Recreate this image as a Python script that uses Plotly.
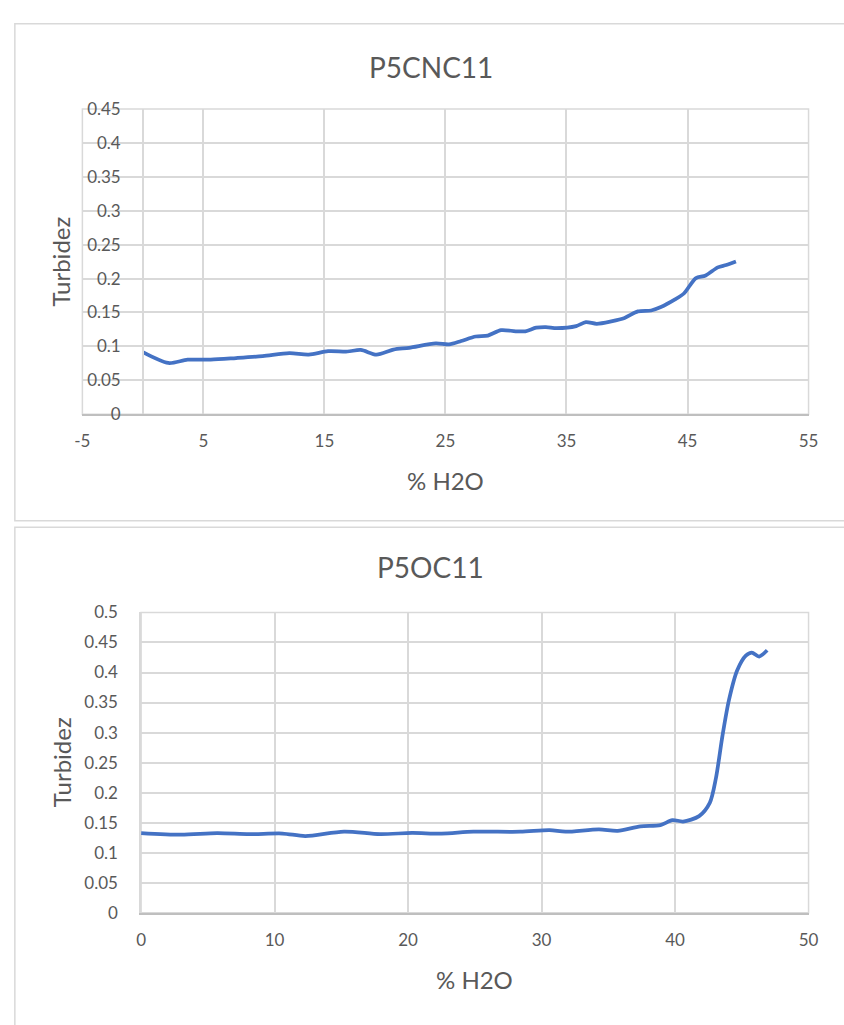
import plotly.graph_objects as go

# P5CNC11: turbidity vs water content
h2o_cnc = [0, 2.1, 3.7, 5.6, 7.7, 9.9, 12.1, 13.7, 15.3, 16.9, 18.0, 19.3, 20.7, 22.0,
           24.2, 25.3, 26.3, 27.5, 28.5, 29.6, 30.8, 31.6, 32.5, 33.3, 34.2, 35.8,
           36.6, 37.5, 38.7, 39.8, 40.9, 42.0, 42.8, 43.9, 44.7, 45.2, 45.7, 46.5,
           47.5, 48.2, 49.0]
turb_cnc = [0.0915, 0.0756, 0.0804, 0.0804, 0.0828, 0.0857, 0.0900, 0.0880, 0.0930,
            0.0925, 0.0948, 0.0880, 0.0953, 0.0980, 0.1045, 0.1030, 0.1080, 0.1146,
            0.1160, 0.1240, 0.1223, 0.1223, 0.1276, 0.1285, 0.1270, 0.1300, 0.1357,
            0.1334, 0.1370, 0.1420, 0.1516, 0.1530, 0.1580, 0.1685, 0.1780, 0.1900,
            0.2007, 0.2045, 0.2165, 0.2200, 0.2252]

# P5OC11: turbidity vs water content
h2o_oc = [0, 3.0, 5.7, 8.1, 10.6, 12.3, 15.2, 17.9, 20.3, 22.5, 24.9, 28.4, 30.6,
          31.8, 34.3, 35.7, 37.4, 38.9, 39.8, 40.6, 41.8, 42.6, 43.06, 43.55, 44.04,
          44.65, 45.3, 45.75, 46.3, 46.9]
turb_oc = [0.1327, 0.1300, 0.1327, 0.1310, 0.1320, 0.1278, 0.1353, 0.1310, 0.1330,
           0.1318, 0.1350, 0.1350, 0.1376, 0.1350, 0.1390, 0.1365, 0.1440, 0.1460,
           0.1544, 0.1520, 0.1610, 0.1830, 0.2240, 0.2946, 0.3544, 0.4033, 0.4280,
           0.4332, 0.4266, 0.4370]

titles = ["P5CNC11", "P5OC11"]
x_title = "% H2O"
y_title = "Turbidez"

y1_ticks = [0, 0.05, 0.1, 0.15, 0.2, 0.25, 0.3, 0.35, 0.4, 0.45]
y1_labels = ["0", "0.05", "0.1", "0.15", "0.2", "0.25", "0.3", "0.35", "0.4", "0.45"]
y2_ticks = [0, 0.05, 0.1, 0.15, 0.2, 0.25, 0.3, 0.35, 0.4, 0.45, 0.5]
y2_labels = ["0", "0.05", "0.1", "0.15", "0.2", "0.25", "0.3", "0.35", "0.4", "0.45", "0.5"]
x1_ticks = [-5, 5, 15, 25, 35, 45, 55]
x2_ticks = [0, 10, 20, 30, 40, 50]

W, H = 844, 1025
FONT = "Lato"
TXT = "#595959"
GRID = "#d9d9d9"
AXIS = "#bfbfbf"
LINE = "#4472C4"


def px(x):
    """pixel x -> paper fraction"""
    return x / W


def py(y):
    """pixel y (from top) -> paper fraction"""
    return 1 - y / H


fig = go.Figure()
fig.add_trace(go.Scatter(x=h2o_cnc, y=turb_cnc, mode="lines", xaxis="x", yaxis="y",
                         line=dict(color=LINE, width=3.75, shape="spline", smoothing=0.8),
                         showlegend=False))
fig.add_trace(go.Scatter(x=h2o_oc, y=turb_oc, mode="lines", xaxis="x2", yaxis="y2",
                         line=dict(color=LINE, width=3.75, shape="spline", smoothing=0.8),
                         showlegend=False))

tickfont = dict(family=FONT, size=17, color=TXT)

common_x = dict(showgrid=True, gridcolor=GRID, gridwidth=1.5, zeroline=False,
                showline=True, linecolor=AXIS, linewidth=1.5, ticks="",
                tickfont=tickfont, ticklabelstandoff=11, fixedrange=True)
common_y = dict(showgrid=True, gridcolor=GRID, gridwidth=1.5, zeroline=False,
                showline=True, linecolor=GRID, linewidth=1.5, ticks="",
                tickfont=tickfont, ticklabelstandoff=18, fixedrange=True)

# chart 1 plot area: x -5..55 over px 76..818, y 0..0.45 over px 411.7..100
x1_dom = [px(76), px(818)]
y1_dom = [py(411.7), py(100)]
# chart 2 plot area: x 0..50 over px 136..818, y 0..0.5 over px 920.7..614
x2_dom = [px(136), px(818)]
y2_dom = [py(920.7), py(614)]

fig.update_layout(
    width=W, height=H,
    margin=dict(l=0, r=0, t=0, b=0),
    paper_bgcolor="white", plot_bgcolor="white",
    xaxis=dict(domain=x1_dom, anchor="y", range=[-5, 55],
               tickvals=x1_ticks, ticktext=[str(v) for v in x1_ticks], **common_x),
    yaxis=dict(domain=y1_dom, anchor="free", position=px(76 + 5 * 742 / 60),
               range=[0, 0.45], tickvals=y1_ticks, ticktext=y1_labels, **common_y),
    xaxis2=dict(domain=x2_dom, anchor="y2", range=[0, 50],
                tickvals=x2_ticks, ticktext=[str(v) for v in x2_ticks], **common_x),
    yaxis2=dict(domain=y2_dom, anchor="x2", range=[0, 0.5],
                tickvals=y2_ticks, ticktext=y2_labels, **common_y),
)

# chart frames and plot-area outlines
shapes = [
    dict(type="rect", xref="paper", yref="paper", x0=px(7), x1=1.05, y0=py(520.5), y1=py(13),
         line=dict(color=GRID, width=1.5), fillcolor="rgba(0,0,0,0)", layer="below"),
    dict(type="rect", xref="paper", yref="paper", x0=px(7), x1=1.05, y0=-0.05, y1=py(527),
         line=dict(color=GRID, width=1.5), fillcolor="rgba(0,0,0,0)", layer="below"),
    dict(type="rect", xref="x domain", yref="y domain", x0=0, x1=1, y0=0, y1=1,
         line=dict(color=GRID, width=1.5), layer="below"),
    dict(type="rect", xref="x2 domain", yref="y2 domain", x0=0, x1=1, y0=0, y1=1,
         line=dict(color=GRID, width=1.5), layer="below"),
]
fig.update_layout(shapes=shapes)

ann = []
# chart titles
ann.append(dict(text=titles[0], x=px(432), y=py(57), xref="paper", yref="paper",
                showarrow=False, xanchor="center", yanchor="middle",
                font=dict(family=FONT, size=28, color=TXT)))
ann.append(dict(text=titles[1], x=px(432), y=py(568), xref="paper", yref="paper",
                showarrow=False, xanchor="center", yanchor="middle",
                font=dict(family=FONT, size=28, color=TXT)))
# axis titles
for cx, cy in [(447, 479), (477, 989)]:
    ann.append(dict(text=x_title, x=px(cx), y=py(cy), xref="paper", yref="paper",
                    showarrow=False, xanchor="center", yanchor="middle",
                    font=dict(family=FONT, size=24, color=TXT)))
for cy in [256, 767]:
    ann.append(dict(text=y_title, x=px(54), y=py(cy), xref="paper", yref="paper",
                    showarrow=False, xanchor="center", yanchor="middle", textangle=-90,
                    font=dict(family=FONT, size=24, color=TXT)))
fig.update_layout(annotations=ann)

# flush the figure against the page edges
fig.write_html("out.html",
               post_script="document.body.style.margin='0';"
                           "document.body.style.overflow='hidden';")
